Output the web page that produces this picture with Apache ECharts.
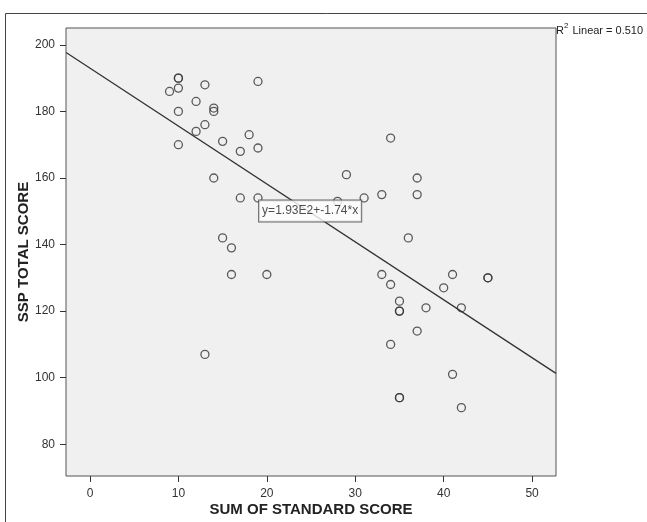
<!DOCTYPE html>
<html>
<head>
<meta charset="utf-8">
<title>SSP total score vs sum of standard score</title>
<script src="https://cdn.jsdelivr.net/npm/echarts@6/dist/echarts.min.js"></script>
<style>
  html, body { margin: 0; padding: 0; background: #fff; }
  #chart { width: 647px; height: 522px; }
</style>
</head>
<body>
<div id="chart"></div>
<script>
// values
const sumScore = [10, 10, 10, 9, 13, 19, 12, 14, 14, 10, 13, 12, 18, 15, 10, 17, 19, 14, 17, 19, 15, 16, 16, 20, 13,
  34, 29, 37, 37, 33, 28, 31, 36, 33, 34, 35, 35, 35, 38, 42, 37, 34, 41, 35, 35, 42, 41, 40, 45, 45]
const sspScore = [190, 190, 187, 186, 188, 189, 183, 181, 180, 180, 176, 174, 173, 171, 170, 168, 169, 160, 154, 154, 142, 139, 131, 131, 107,
  172, 161, 160, 155, 155, 153, 154, 142, 131, 128, 123, 120, 120, 121, 121, 114, 110, 101, 94, 94, 91, 131, 127, 130, 130]

// fit line end points (left / right edge of plot)
const fitX = [-2.7, 52.7]
const fitY = [197.7, 101.3]

const xTicks = [0, 10, 20, 30, 40, 50]
const yTicks = [80, 100, 120, 140, 160, 180, 200]

const fitLabel = 'y=1.93E2+-1.74*x'
const r2Text = '0.510'

const font = 'Liberation Sans, Arial, sans-serif'

const chart = echarts.init(document.getElementById('chart'))

const points = sumScore.map((x, i) => [x, sspScore[i]])
const fitLine = fitX.map((x, i) => [x, fitY[i]])

chart.setOption({
  animation: false,
  backgroundColor: '#fff',
  textStyle: { fontFamily: font },
  graphic: [
    {
      type: 'rect',
      shape: { x: 5.5, y: 13.5, width: 700, height: 600 },
      style: { fill: 'none', stroke: '#444', lineWidth: 1 },
      silent: true
    },
    {
      type: 'text',
      left: 556,
      top: 22,
      style: {
        text: '{b|R}{s|2}{b| Linear = ' + r2Text + '}',
        rich: {
          b: { fontSize: 11, fontFamily: font, fill: '#222', verticalAlign: 'bottom' },
          s: { fontSize: 8, fontFamily: font, fill: '#222', verticalAlign: 'top', padding: [0, 1, 6, 0] }
        }
      }
    }
  ],
  grid: {
    left: 66,
    right: 91,
    top: 28,
    bottom: 42,
    show: true,
    backgroundColor: '#f0f0f0',
    borderColor: '#555',
    borderWidth: 1
  },
  xAxis: {
    type: 'value',
    min: -2.71,
    max: 52.7,
    name: 'SUM OF STANDARD SCORE',
    nameLocation: 'middle',
    nameGap: 26,
    nameMoveOverlap: false,
    nameTextStyle: { fontSize: 15, fontWeight: 'bold', color: '#222', fontFamily: font },
    splitLine: { show: false },
    axisLine: { show: false, onZero: false },
    axisTick: { show: true, inside: false, length: 6, customValues: xTicks, lineStyle: { color: '#333' } },
    axisLabel: { fontSize: 12, color: '#333', margin: 12, customValues: xTicks }
  },
  yAxis: {
    type: 'value',
    min: 70.46,
    max: 205.06,
    name: 'SSP TOTAL SCORE',
    nameLocation: 'middle',
    nameGap: 35,
    nameRotate: 90,
    nameMoveOverlap: false,
    nameTextStyle: { fontSize: 15, fontWeight: 'bold', color: '#222', fontFamily: font },
    splitLine: { show: false },
    axisLine: { show: false, onZero: false },
    axisTick: { show: true, inside: false, length: 6, customValues: yTicks, lineStyle: { color: '#333' } },
    axisLabel: { fontSize: 12, color: '#333', margin: 11, customValues: yTicks }
  },
  series: [
    {
      type: 'line',
      data: fitLine,
      symbol: 'none',
      silent: true,
      lineStyle: { color: '#333', width: 1.3 },
      z: 2
    },
    {
      type: 'scatter',
      data: points,
      symbol: 'circle',
      symbolSize: 8,
      itemStyle: { color: 'rgba(0,0,0,0)', borderColor: '#333', borderWidth: 1.3 },
      z: 3
    },
    {
      type: 'scatter',
      data: [[24.9, 150.1]],
      symbolSize: 0,
      silent: true,
      z: 5,
      label: {
        show: true,
        position: 'inside',
        formatter: fitLabel,
        fontSize: 12,
        color: '#222',
        fontFamily: font,
        backgroundColor: '#fff',
        borderColor: '#444',
        borderWidth: 1,
        padding: [5, 3, 4, 3]
      }
    }
  ]
})
</script>
</body>
</html>
